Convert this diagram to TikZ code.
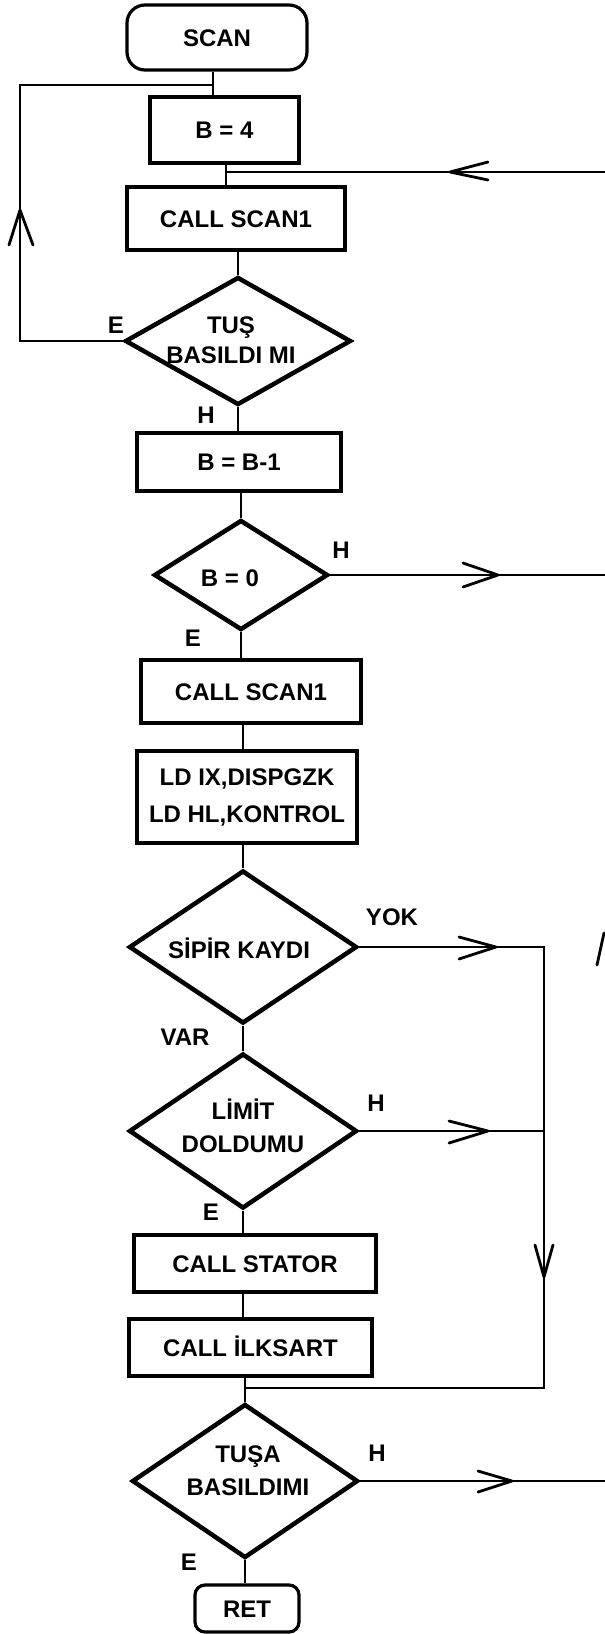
\documentclass[tikz,border=0pt]{standalone}
\usepackage{fontspec}
\setmainfont{Liberation Sans}
\usetikzlibrary{shapes.geometric}
\begin{document}
\begin{tikzpicture}[x=1pt,y=-1pt,
  mtxt/.style={font=\fontsize{24}{32}\selectfont\bfseries, align=center, inner sep=0pt},
  txt/.style={mtxt, text height=17.2pt, text depth=0pt},
  box/.style={draw, line width=3.2pt, minimum width=10pt, inner sep=0pt, font=\fontsize{24}{32}\selectfont\bfseries, align=center},
  sbox/.style={box, text height=17.2pt, text depth=0pt},
  term/.style={sbox, rounded corners=18pt},
  dec/.style={draw, diamond, line width=4.5pt, inner sep=0pt},
  lbl/.style={font=\fontsize{24}{28}\selectfont\bfseries, inner sep=0pt, text height=17.2pt, text depth=0pt},
  conn/.style={line width=2.8pt},
  barb/.style={line width=2.8pt, line cap=round, line join=round},
]
\useasboundingbox (0,0) rectangle (605,1634);

% process boxes
\node[term, minimum width=180pt, minimum height=65pt] (scan) at (217,37.5) {SCAN};
\node[sbox, minimum width=149pt, minimum height=66pt] (b4) at (224.5,130) {B = 4};
\node[sbox, minimum width=218pt, minimum height=63pt] (cs1) at (236,218.5) {CALL SCAN1};
\node[sbox, minimum width=204pt, minimum height=58pt] (bb1) at (239,462) {B = B-1};
\node[sbox, minimum width=220pt, minimum height=63pt] (cs2) at (251,691.5) {CALL SCAN1};
\node[box, minimum width=220pt, minimum height=92pt, font=\fontsize{24}{37}\selectfont\bfseries] (ld) at (247,797) {LD IX,DISPGZK\\LD HL,KONTROL};
\node[sbox, minimum width=242pt, minimum height=57pt] (stator) at (255,1263.5) {CALL STATOR};
\node[sbox, minimum width=243pt, minimum height=57pt] (ilk) at (250.5,1347.5) {CALL İLKSART};
\node[term, rounded corners=10pt, minimum width=104pt, minimum height=47pt] (ret) at (247,1608.5) {RET};

% decisions
\node[dec, minimum width=226pt, minimum height=128pt] (d1) at (238,341) {};
\node[dec, minimum width=174pt, minimum height=110pt] (d2) at (241,575) {};
\node[dec, minimum width=228pt, minimum height=153pt] (d3) at (243,947) {};
\node[dec, minimum width=228pt, minimum height=155pt] (d4) at (243,1131) {};
\node[dec, minimum width=226pt, minimum height=154pt] (d5) at (245,1481) {};

\node[mtxt, font=\fontsize{24}{30}\selectfont\bfseries] (d1t) at (231,340) {TUŞ\\BASILDI MI};
\node[txt] (d2t) at (230,578) {B = 0};
\node[txt] (d3t) at (239,950) {SİPİR KAYDI};
\node[mtxt, font=\fontsize{24}{33}\selectfont\bfseries] (d4t) at (243,1126) {LİMİT\\DOLDUMU};
\node[mtxt, font=\fontsize{24}{33}\selectfont\bfseries] (d5t) at (248,1471) {TUŞA\\BASILDIMI};

% branch labels
\node[lbl] (l1) at (116,325) {E};
\node[lbl] (l2) at (206,415) {H};
\node[lbl] (l3) at (341,550) {H};
\node[lbl] (l4) at (193,638) {E};
\node[lbl] (l5) at (392,917) {YOK};
\node[lbl] (l6) at (185,1037) {VAR};
\node[lbl] (l7) at (376,1103) {H};
\node[lbl] (l8) at (211,1212) {E};
\node[lbl] (l9) at (377,1453) {H};
\node[lbl] (l10) at (189,1562) {E};

% connectors
\coordinate (j0) at (213,85);
\coordinate (lt) at (20,85);
\coordinate (lb) at (20,341);
\draw[conn] (scan.south -| j0) -- (b4.north -| j0);
\draw[conn] (d1.west) -- (lb) -- (lt) -- (j0);
\draw[barb] (9,245) -- (20,210) -- (33,245);

\coordinate (j1) at (226,172);
\coordinate (r1) at (605,172);
\draw[conn] (b4.south -| j1) -- (cs1.north -| j1);
\draw[conn] (r1) -- (j1);
\draw[barb] (488,162) -- (450,172) -- (488,180);

\draw[conn] (cs1.south -| d1.north) -- (d1.north);
\draw[conn] (d1.south) -- (d1.south |- bb1.north);
\draw[conn] (bb1.south -| d2.north) -- (d2.north);
\coordinate (r2) at (605,575);
\draw[conn] (d2.east) -- (r2);
\draw[barb] (463,563) -- (498,575) -- (463,587);
\draw[conn] (d2.south) -- (d2.south |- cs2.north);
\draw[conn] (cs2.south -| d3.north) -- (ld.north -| d3.north);
\draw[conn] (ld.south -| d3.north) -- (d3.north);

\coordinate (rv1) at (544,947);
\coordinate (rv2) at (544,1388);
\draw[conn] (d3.east) -- (rv1) -- (rv2) -- (rv2 -| d5.north);
\draw[barb] (459,937) -- (496,947) -- (459,959);
\draw[barb] (535,1245) -- (544,1277) -- (553,1245);
\draw[conn] (d3.south) -- (d4.north);
\draw[conn] (d4.east) -- (d4.east -| rv1);
\draw[barb] (449,1121) -- (488,1131) -- (449,1143);
\draw[conn] (d4.south) -- (d4.south |- stator.north);
\draw[conn] (stator.south -| d4.south) -- (ilk.north -| d4.south);
\draw[conn] (ilk.south -| d5.north) -- (d5.north);
\coordinate (r5) at (605,1481);
\draw[conn] (d5.east) -- (r5);
\draw[barb] (478,1471) -- (512,1481) -- (478,1492);
\draw[conn] (d5.south) -- (d5.south |- ret.north);

% stray stroke at right edge
\draw[barb] (597,965) -- (604,933);
\end{tikzpicture}
\end{document}
